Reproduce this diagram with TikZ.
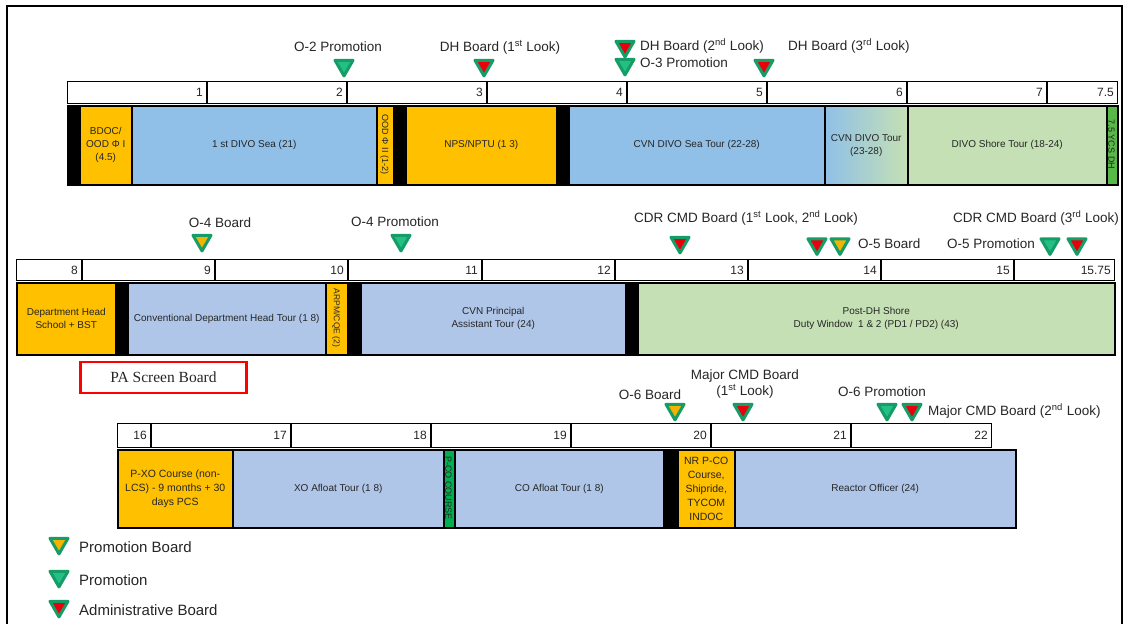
\documentclass[tikz,border=0pt]{standalone}
\usepackage{fontspec}
\setmainfont{Liberation Sans}
\newfontfamily\serifpa{Liberation Serif}
\usetikzlibrary{shapes.geometric}
\definecolor{gold}{HTML}{FFC000}
\definecolor{seablue}{HTML}{90C0E8}
\definecolor{lavblue}{HTML}{AFC6E9}
\definecolor{shoregreen}{HTML}{C5E0B4}
\definecolor{ycsgreen}{HTML}{58B848}
\definecolor{pcogreen}{HTML}{00B050}
\definecolor{tealrim}{HTML}{169C66}
\definecolor{promofill}{HTML}{22C084}
\definecolor{adminred}{HTML}{E8000B}
\definecolor{boardgold}{HTML}{F2B400}
\definecolor{inkgray}{HTML}{262626}
\tikzset{font=\fontsize{10}{13}\selectfont}
\tikzstyle{seg}=[draw=black,line width=1.5pt,anchor=north west,inner sep=0pt,align=center,text=inkgray]
\tikzstyle{upright}=[rotate=-90,inner sep=0pt,text=inkgray,font=\fontsize{9}{10}\selectfont]
\tikzstyle{ruler}=[draw=black,line width=1.2pt,fill=white,anchor=north west,inner sep=0pt]
\tikzstyle{tickline}=[line width=2.5pt]
\tikzstyle{yr}=[anchor=east,inner sep=0pt,text=inkgray,font=\fontsize{12}{12}\selectfont]
\tikzstyle{tri}=[regular polygon,regular polygon sides=3,shape border rotate=180,minimum size=20.8pt,inner sep=0pt,draw=tealrim,line width=3pt,line join=round]
\tikzstyle{promo}=[tri,fill=promofill]
\tikzstyle{admin}=[tri,fill=adminred]
\tikzstyle{pboard}=[tri,fill=boardgold]
\tikzstyle{evlabel}=[inner sep=0pt,text=inkgray,align=center,font=\fontsize{13.5}{16}\selectfont]
\tikzstyle{legtext}=[anchor=west,inner sep=0pt,text=inkgray,font=\fontsize{15}{16}\selectfont]

\begin{document}
\begin{tikzpicture}[x=1pt,y=-1pt]
\useasboundingbox (0,0) rectangle (1125,624);
\draw[line width=1.5pt] (7,624) -- (7,6) -- (1122,6) -- (1122,624);

% years 0 - 7.5
\node[ruler,minimum width=1050,minimum height=22] (rule1) at (67,81) {};
\draw[tickline] (207,81) -- (207,103) (347,81) -- (347,103) (487,81) -- (487,103)
 (627,81) -- (627,103) (767,81) -- (767,103) (907,81) -- (907,103) (1047,81) -- (1047,103);
\node[yr] (y1) at (203,92) {1};
\node[yr] (y2) at (343,92) {2};
\node[yr] (y3) at (483,92) {3};
\node[yr] (y4) at (623,92) {4};
\node[yr] (y5) at (763,92) {5};
\node[yr] (y6) at (903,92) {6};
\node[yr] (y7) at (1043,92) {7};
\node[yr] (y7h) at (1114,92) {7.5};

\node[seg,fill=black,minimum width=1050,minimum height=79] (bar1) at (67,105) {};
\node[seg,fill=gold,minimum width=52,minimum height=79] (bdoc) at (79,105) {BDOC/\\OOD Φ I\\(4.5)};
\node[seg,fill=seablue,minimum width=245,minimum height=79] (divo1) at (131,105) {1 st DIVO Sea (21)};
\node[seg,fill=gold,minimum width=17,minimum height=79] (ood2) at (376,105) {};
\node[upright] (ood2t) at (384.5,144.5) {OOD Φ II (1-2)};
\node[seg,fill=gold,minimum width=151,minimum height=79] (nps) at (405,105) {NPS/NPTU (1 3)};
\node[seg,fill=seablue,minimum width=256,minimum height=79] (cvnsea) at (568,105) {CVN DIVO Sea Tour (22-28)};
\node[seg,left color=seablue,right color=shoregreen,minimum width=83,minimum height=79] (cvntour) at (824,105) {CVN DIVO Tour\\(23-28)};
\node[seg,fill=shoregreen,minimum width=199,minimum height=79] (divoshore) at (907,105) {DIVO Shore Tour (18-24)};
\node[seg,fill=ycsgreen,minimum width=11,minimum height=79] (ycs) at (1106,105) {};
\node[upright] (ycst) at (1111.5,144.5) {7.5 YCS DH};

\node[promo] (o2p) at (344,65.5) {};
\node[admin] (dh1) at (484,65.5) {};
\node[admin] (dh2) at (625,46.5) {};
\node[promo] (o3p) at (625,64.5) {};
\node[admin] (dh3) at (764,65.5) {};
\node[evlabel] (o2pl) at (338,47) {O-2 Promotion};
\node[evlabel] (dh1l) at (500,47) {DH Board (1\textsuperscript{st} Look)};
\node[evlabel,anchor=west] (dh2l) at (640,46) {DH Board (2\textsuperscript{nd} Look)};
\node[evlabel,anchor=west] (o3pl) at (640,63) {O-3 Promotion};
\node[evlabel,anchor=west] (dh3l) at (788,46) {DH Board (3\textsuperscript{rd} Look)};

% years 7.5 - 15.75
\node[ruler,minimum width=1098,minimum height=21] (rule2) at (16,259) {};
\draw[tickline] (82,259) -- (82,280) (215,259) -- (215,280) (348,259) -- (348,280)
 (482,259) -- (482,280) (615,259) -- (615,280) (748,259) -- (748,280) (881,259) -- (881,280) (1014,259) -- (1014,280);
\node[yr] (y8) at (78,270) {8};
\node[yr] (y9) at (211,270) {9};
\node[yr] (y10) at (344,270) {10};
\node[yr] (y11) at (478,270) {11};
\node[yr] (y12) at (611,270) {12};
\node[yr] (y13) at (744,270) {13};
\node[yr] (y14) at (877,270) {14};
\node[yr] (y15) at (1010,270) {15};
\node[yr] (y15q) at (1111,270) {15.75};

\node[seg,fill=black,minimum width=1098,minimum height=72] (bar2) at (16,282) {};
\node[seg,fill=gold,minimum width=99,minimum height=72] (dhs) at (16,282) {Department Head\\School + BST};
\node[seg,fill=lavblue,minimum width=198,minimum height=72] (cdht) at (127,282) {Conventional Department Head Tour (1 8)};
\node[seg,fill=gold,minimum width=22,minimum height=72] (arpm) at (325,282) {};
\node[upright,font=\fontsize{8.5}{10}\selectfont] (arpmt) at (336,318) {ARPM/CQE (2)};
\node[seg,fill=lavblue,minimum width=265,minimum height=72] (cvnpa) at (360,282) {CVN Principal\\Assistant Tour (24)};
\node[seg,fill=shoregreen,minimum width=477,minimum height=72] (postdh) at (637,282) {Post-DH Shore\\Duty Window\ \ 1 \& 2 (PD1 / PD2) (43)};

\node[pboard] (o4b) at (202,240.5) {};
\node[promo] (o4p) at (401,240.5) {};
\node[admin] (cdr1) at (680,242.5) {};
\node[admin] (cdr2) at (817,244) {};
\node[pboard] (o5b) at (840,244) {};
\node[promo] (o5p) at (1050,244) {};
\node[admin] (cdr3) at (1077,244) {};
\node[evlabel] (o4bl) at (220,223) {O-4 Board};
\node[evlabel] (o4pl) at (395,222) {O-4 Promotion};
\node[evlabel,anchor=west] (cdr12l) at (634,218) {CDR CMD Board (1\textsuperscript{st} Look, 2\textsuperscript{nd} Look)};
\node[evlabel,anchor=west] (o5bl) at (858,244) {O-5 Board};
\node[evlabel,anchor=west] (cdr3l) at (953,218) {CDR CMD Board (3\textsuperscript{rd} Look)};
\node[evlabel,anchor=west] (o5pl) at (947,244) {O-5 Promotion};

\node[draw=red,line width=2.5pt,minimum width=166,minimum height=31,inner sep=0pt,text=inkgray,font=\serifpa\fontsize{15.5}{16}\selectfont] (pa) at (163.5,377.5) {PA Screen Board};

% years 15.75 - 22
\node[ruler,minimum width=874,minimum height=24] (rule3) at (117,423) {};
\draw[tickline] (151,423) -- (151,447) (291,423) -- (291,447) (431,423) -- (431,447)
 (571,423) -- (571,447) (711,423) -- (711,447) (851,423) -- (851,447);
\node[yr] (y16) at (147,435) {16};
\node[yr] (y17) at (287,435) {17};
\node[yr] (y18) at (427,435) {18};
\node[yr] (y19) at (567,435) {19};
\node[yr] (y20) at (707,435) {20};
\node[yr] (y21) at (847,435) {21};
\node[yr] (y22) at (988,435) {22};

\node[seg,fill=black,minimum width=898,minimum height=78] (bar3) at (117,449) {};
\node[seg,fill=gold,minimum width=115,minimum height=78,font=\fontsize{10.5}{14}\selectfont] (pxo) at (117,449) {P-XO Course (non-\\LCS) - 9 months + 30\\days PCS};
\node[seg,fill=lavblue,minimum width=211,minimum height=78] (xo) at (232,449) {XO Afloat Tour (1 8)};
\node[seg,fill=pcogreen,minimum width=11,minimum height=78] (pco) at (443,449) {};
\node[upright] (pcot) at (448.5,488) {P-CO COURSE};
\node[seg,fill=lavblue,minimum width=209,minimum height=78] (co) at (454,449) {CO Afloat Tour (1 8)};
\node[seg,fill=gold,minimum width=57,minimum height=78,font=\fontsize{10.5}{14}\selectfont] (nrpco) at (677,449) {NR P-CO\\Course,\\Shipride,\\TYCOM\\INDOC};
\node[seg,fill=lavblue,minimum width=281,minimum height=78] (ro) at (734,449) {Reactor Officer (24)};

\node[pboard] (o6b) at (675,409.5) {};
\node[admin] (maj1) at (743,409.5) {};
\node[promo] (o6p) at (887,409.5) {};
\node[admin] (maj2) at (912,409.5) {};
\node[evlabel] (o6bl) at (650,395) {O-6 Board};
\node[evlabel] (maj1l) at (745,384) {Major CMD Board\\(1\textsuperscript{st} Look)};
\node[evlabel] (o6pl) at (882,392) {O-6 Promotion};
\node[evlabel,anchor=west] (maj2l) at (928,411) {Major CMD Board (2\textsuperscript{nd} Look)};

% legend
\node[pboard] (lg1) at (59,543.5) {};
\node[promo] (lg2) at (59,576.5) {};
\node[admin] (lg3) at (59,606.5) {};
\node[legtext] (lg1t) at (79,547) {Promotion Board};
\node[legtext] (lg2t) at (79,580) {Promotion};
\node[legtext] (lg3t) at (79,610) {Administrative Board};
\end{tikzpicture}
\end{document}
